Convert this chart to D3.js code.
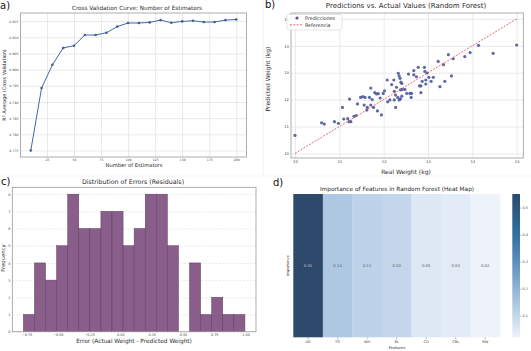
<!DOCTYPE html>
<html>
<head>
<meta charset="utf-8">
<title>Random forest panels</title>
<script src="https://cdn.jsdelivr.net/npm/d3@7"></script>
<style>
  body { margin: 0; background: #fff; }
  svg { display: block; font-family: "DejaVu Sans", sans-serif; }
  .grid path { display: none; }
  .grid line { stroke: #dcdcdc; stroke-width: 0.6; }
  .tick text { fill: #444; }
</style>
</head>
<body>
<div id="chart"></div>
<script>
// a) cross validation curve
const estimators = [10, 20, 30, 40, 50, 60, 70, 80, 90, 100, 110, 120, 130, 140, 150, 160, 170, 180, 190, 200];
const cvScores = [0.7750, 0.7943, 0.8015, 0.8067, 0.8074, 0.8107, 0.8107, 0.8114, 0.8133, 0.8144,
  0.8144, 0.8146, 0.8153, 0.8145, 0.8149, 0.8151, 0.8147, 0.8147, 0.8153, 0.8155];
const cvXTicks = [25, 50, 75, 100, 125, 150, 175, 200];
const cvYTicks = [0.775, 0.780, 0.785, 0.790, 0.795, 0.800, 0.805, 0.810, 0.815];

// b) predictions vs actual
const realWeight = [10.00, 10.60, 10.66, 10.89, 10.98, 11.07, 11.10, 11.19, 11.23, 11.22, 11.26, 11.33, 11.38, 11.41,
  11.48, 11.53, 11.58, 11.56, 11.62, 11.63, 11.68, 11.71, 11.71, 11.74, 11.77, 11.80, 11.84, 11.88, 11.86, 11.92,
  11.95, 11.99, 12.02, 12.08, 12.09, 12.14, 12.18, 12.23, 12.24, 12.24, 12.27, 12.27, 12.29, 12.32, 12.33, 12.35,
  12.37, 12.39, 12.41, 12.35, 12.38, 12.41, 12.38, 12.42, 12.48, 12.52, 12.56, 12.59, 12.62, 12.63, 12.68, 12.68,
  12.74, 12.78, 12.81, 12.84, 12.84, 12.87, 12.92, 12.93, 12.95, 12.95, 12.98, 13.02, 13.07, 13.12, 13.23, 13.27,
  13.35, 13.38, 13.46, 13.53, 13.57, 13.83, 13.95, 14.14, 14.47, 15.00];
const predWeight = [10.67, 11.14, 11.09, 11.18, 11.12, 11.71, 11.28, 11.29, 12.02, 11.18, 11.18, 11.38, 11.41, 11.84,
  12.08, 12.11, 12.08, 11.80, 11.61, 11.71, 12.08, 12.43, 11.80, 12.00, 11.71, 12.26, 12.21, 12.22, 11.58, 12.06,
  11.43, 12.23, 12.33, 12.73, 11.92, 11.99, 12.56, 12.73, 12.31, 11.99, 12.17, 11.71, 12.46, 12.08, 12.98, 12.88,
  12.79, 12.65, 12.60, 11.99, 12.03, 12.13, 12.36, 12.38, 12.38, 12.23, 12.95, 12.23, 12.08, 12.23, 13.08, 12.92,
  12.85, 13.20, 12.51, 12.51, 12.26, 12.68, 13.20, 13.05, 12.73, 12.58, 12.99, 12.83, 12.68, 12.83, 13.42, 12.48,
  13.30, 12.68, 13.67, 12.88, 13.52, 13.60, 13.75, 14.02, 13.72, 14.03];
const refLine = [10, 15];
const weightTicks = [10, 11, 12, 13, 14, 15];

// c) residual histogram
const binEdges = [-0.775, -0.6865, -0.598, -0.5095, -0.421, -0.3325, -0.244, -0.1555, -0.067, 0.0215, 0.11,
  0.1985, 0.287, 0.3755, 0.464, 0.5525, 0.641, 0.7295, 0.818, 0.9065, 0.995];
const binCounts = [1, 4, 3, 5, 8, 6, 6, 7, 7, 5, 6, 8, 8, 5, 0, 4, 1, 2, 1, 1];
const errXTicks = [-0.75, -0.5, -0.25, 0, 0.25, 0.5, 0.75, 1.0];
const errYTicks = [0, 1, 2, 3, 4, 5, 6, 7, 8];

// d) feature importance
const features = ["AG", "TG", "WH", "BL", "CD", "CBL", "RW"];
const importance = [0.55, 0.14, 0.11, 0.10, 0.05, 0.04, 0.02];
const cbTicks = [0.1, 0.2, 0.3, 0.4, 0.5];

const width = 531, height = 351;
const svg = d3.select("#chart").append("svg")
  .attr("width", width).attr("height", height);

const fmtMinus = f => d => d3.format(f)(d).replace("-", "\u2212");

// faint panel borders
svg.append("line").attr("x1", 263).attr("x2", 263).attr("y1", 0).attr("y2", 175)
  .attr("stroke", "#ececec").attr("stroke-width", 0.8);
svg.append("line").attr("x1", 0).attr("x2", width).attr("y1", 176).attr("y2", 176)
  .attr("stroke", "#f0f0f0").attr("stroke-width", 0.8);

function panelLabel(txt, x, y) {
  svg.append("text").attr("x", x).attr("y", y).text(txt)
    .attr("font-size", 10).attr("fill", "#111");
}

function text(x, y, str, size, opts = {}) {
  const t = svg.append("text").attr("x", x).attr("y", y).text(str)
    .attr("font-size", size).attr("fill", opts.fill || "#2b2b2b")
    .attr("text-anchor", opts.anchor || "middle");
  if (opts.rotate) t.attr("transform", `rotate(-90, ${x}, ${y})`);
  return t;
}

// grid + tick labels for a panel with full box
function gridAxes(box, x, y, xTicks, yTicks, xFmt, yFmt, fs, gridY, gridX = true) {
  const h = box.b - box.t, w = box.r - box.l;
  const gx = svg.append("g").attr("class", "grid")
    .attr("transform", `translate(0,${box.b})`)
    .call(d3.axisBottom(x).tickValues(xTicks).tickSize(-h).tickPadding(2).tickFormat(xFmt));
  if (!gridX) gx.selectAll("line").remove();
  gx.selectAll("text").attr("font-size", fs).attr("font-family", "DejaVu Sans");
  const gy = svg.append("g").attr("class", "grid")
    .attr("transform", `translate(${box.l},0)`)
    .call(d3.axisLeft(y).tickValues(yTicks).tickSize(-w).tickPadding(2).tickFormat(yFmt));
  gy.selectAll("text").attr("font-size", fs).attr("font-family", "DejaVu Sans");
  if (gridY === "dashed") gy.selectAll("line").attr("stroke-dasharray", "2,1.5").attr("stroke", "#cfcfcf");
  return () => svg.append("rect").attr("x", box.l).attr("y", box.t).attr("width", w).attr("height", h)
    .attr("fill", "none").attr("stroke", "#999").attr("stroke-width", 0.8);
}

// ---------- a) ----------
const boxA = { l: 20.5, r: 246.5, t: 13, b: 157 };
const aX = d3.scaleLinear().domain([0.5, 209.5]).range([boxA.l, boxA.r]);
const aY = d3.scaleLinear().domain([0.773, 0.8175]).range([boxA.b, boxA.t]);
gridAxes(boxA, aX, aY, cvXTicks, cvYTicks, d3.format("d"), d3.format(".3f"), 3.2)();

svg.append("path").datum(estimators.map((e, i) => [e, cvScores[i]]))
  .attr("d", d3.line().x(d => aX(d[0])).y(d => aY(d[1])))
  .attr("fill", "none").attr("stroke", "#4468a6").attr("stroke-width", 1);
svg.selectAll(".cvdot").data(estimators).enter().append("circle")
  .attr("cx", d => aX(d)).attr("cy", (d, i) => aY(cvScores[i]))
  .attr("r", 1.3).attr("fill", "#3b5f9e");

panelLabel("a)", 0, 9);
text(137, 9.5, "Cross Validation Curve: Number of Estimators", 5.7);
text(134, 167, "Number of Estimators", 5.2);
text(6, 85, "R\u00b2 Average (Cross Validation)", 4.9, { rotate: true });

// ---------- b) ----------
const boxB = { l: 291, r: 523.3, t: 13, b: 158 };
const bX = d3.scaleLinear().domain([9.91, 15.15]).range([boxB.l, boxB.r]);
const bY = d3.scaleLinear().domain([9.83, 15.22]).range([boxB.b, boxB.t]);
gridAxes(boxB, bX, bY, weightTicks, weightTicks, d3.format("d"), d3.format("d"), 3.8)();

svg.selectAll(".pt").data(realWeight).enter().append("circle")
  .attr("cx", d => bX(d)).attr("cy", (d, i) => bY(predWeight[i]))
  .attr("r", 1.6).attr("fill", "#4c5a98").attr("opacity", 0.9);
svg.append("line")
  .attr("x1", bX(refLine[0])).attr("y1", bY(refLine[0]))
  .attr("x2", bX(refLine[1])).attr("y2", bY(refLine[1]))
  .attr("stroke", "#e5484d").attr("stroke-width", 0.8).attr("stroke-dasharray", "2,1.3");

// legend
svg.append("rect").attr("x", 287).attr("y", 14.5).attr("width", 55).attr("height", 15.5).attr("rx", 1.5)
  .attr("fill", "#fff").attr("fill-opacity", 0.85).attr("stroke", "#d5d5d5").attr("stroke-width", 0.6);
svg.append("circle").attr("cx", 297).attr("cy", 18).attr("r", 1.6).attr("fill", "#4c5a98");
text(305, 19.8, "Predicciones", 4.8, { anchor: "start" });
svg.append("line").attr("x1", 290).attr("x2", 303).attr("y1", 24.8).attr("y2", 24.8)
  .attr("stroke", "#e5484d").attr("stroke-width", 0.8).attr("stroke-dasharray", "2,1.3");
text(305, 26.6, "Referencia", 4.8, { anchor: "start" });

panelLabel("b)", 265, 8);
text(406, 7.5, "Predictions vs. Actual Values (Random Forest)", 7);
text(406, 173.5, "Real Weight (kg)", 6);
text(270, 79, "Predicted Weight (kg)", 6, { rotate: true });

// ---------- c) ----------
const boxC = { l: 12.3, r: 256, t: 187.3, b: 331.7 };
const cX = d3.scaleLinear().domain([-0.8635, 1.0835]).range([boxC.l, boxC.r]);
const cY = d3.scaleLinear().domain([0, 8.4]).range([boxC.b, boxC.t]);
const frameC = gridAxes(boxC, cX, cY, errXTicks, errYTicks, fmtMinus(".2f"), d3.format("d"), 3.4, "dashed", false);

binCounts.forEach((c, i) => {
  if (c === 0) return;
  svg.append("rect")
    .attr("x", cX(binEdges[i])).attr("width", cX(binEdges[i + 1]) - cX(binEdges[i]))
    .attr("y", cY(c)).attr("height", cY(0) - cY(c))
    .attr("fill", "#8a5e8a").attr("stroke", "#5e3d5e").attr("stroke-width", 0.5);
});
frameC();

panelLabel("c)", 1, 185);
text(133, 183.5, "Distribution of Errors (Residuals)", 6.3);
text(134, 342.5, "Error (Actual Weight - Predicted Weight)", 5.8);
text(4.5, 258, "Frequency", 5.3, { rotate: true });

// ---------- d) ----------
const boxD = { l: 293.3, r: 500, t: 194, b: 337.3 };
const dX = d3.scaleBand().domain(features).range([boxD.l, boxD.r]);
const color = d3.scaleLinear()
  .domain([0.02, 0.1, 0.2, 0.3, 0.4, 0.55])
  .range(["#eef3f9", "#c3d6eb", "#8fb3d6", "#5b8fbf", "#2f70a1", "#2d4a6d"]);

svg.selectAll(".cell").data(features).enter().append("rect")
  .attr("x", d => dX(d)).attr("width", dX.bandwidth() + 0.3)
  .attr("y", boxD.t).attr("height", boxD.b - boxD.t)
  .attr("fill", (d, i) => color(importance[i]));
svg.selectAll(".cellText").data(features).enter().append("text")
  .attr("x", d => dX(d) + dX.bandwidth() / 2).attr("y", (boxD.t + boxD.b) / 2 + 1)
  .attr("text-anchor", "middle").attr("font-size", 3.8)
  .attr("fill", (d, i) => importance[i] > 0.3 ? "#c8ccd4" : "#555")
  .text((d, i) => d3.format(".2f")(importance[i]));

const gD = svg.append("g").attr("transform", `translate(0,${boxD.b})`)
  .call(d3.axisBottom(dX).tickSize(2).tickPadding(1.5));
gD.select(".domain").remove();
gD.selectAll("line").attr("stroke", "#555").attr("stroke-width", 0.4);
gD.selectAll("text").attr("font-size", 3.6).attr("font-family", "DejaVu Sans");

// colorbar
const cbY = d3.scaleLinear().domain([0.02, 0.55]).range([boxD.b, boxD.t]);
const grad = svg.append("defs").append("linearGradient").attr("id", "cbGrad")
  .attr("x1", 0).attr("x2", 0).attr("y1", 1).attr("y2", 0);
d3.range(0, 1.0001, 0.05).forEach(t => {
  grad.append("stop").attr("offset", t).attr("stop-color", color(0.02 + t * 0.53));
});
svg.append("rect").attr("x", 512.3).attr("y", boxD.t).attr("width", 7.7).attr("height", boxD.b - boxD.t)
  .attr("fill", "url(#cbGrad)");
const gCb = svg.append("g").attr("transform", "translate(520,0)")
  .call(d3.axisRight(cbY).tickValues(cbTicks).tickSize(1.5).tickPadding(1).tickFormat(d3.format(".1f")));
gCb.select(".domain").remove();
gCb.selectAll("line").attr("stroke", "#555").attr("stroke-width", 0.4);
gCb.selectAll("text").attr("font-size", 3.4).attr("font-family", "DejaVu Sans");

panelLabel("d)", 273, 186);
text(397, 191, "Importance of Features in Random Forest (Heat Map)", 5.8);
text(397, 348.5, "Features", 3.8);
text(289, 265.6, "Importance", 3.6, { rotate: true });
</script>
</body>
</html>
